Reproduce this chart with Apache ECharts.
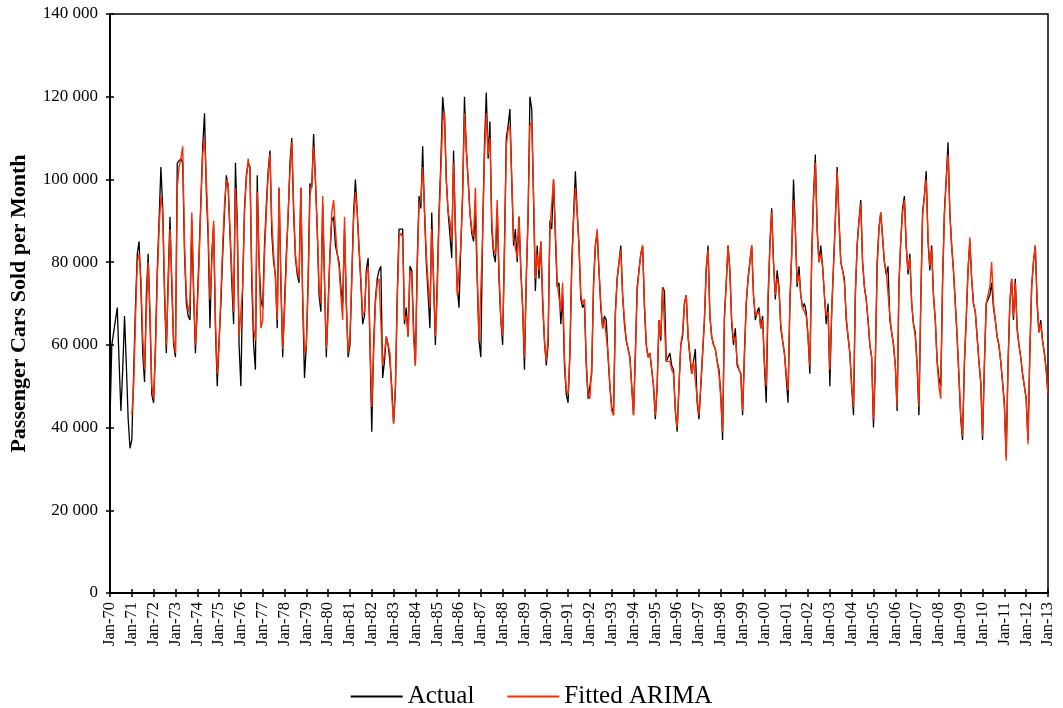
<!DOCTYPE html>
<html>
<head>
<meta charset="utf-8">
<title>Passenger Cars Sold per Month</title>
<script src="https://cdn.jsdelivr.net/npm/echarts/dist/echarts.min.js"></script>
<style>
  html, body { margin: 0; padding: 0; background: #fff; }
  #chart { width: 1063px; height: 708px; }
</style>
</head>
<body>
<div id="chart"></div>
<script>
// cars sold per month, in thousands, Jan-70 .. Jan-13 (one line per year)
const actual70s = [
  42, 60, 63, 66, 69, 56, 44, 54, 67, 55, 42, 35,
  37, 53, 69, 82, 85, 74, 58, 51, 72, 82, 66, 48,
  46, 60, 78, 90, 103, 93, 72, 58, 76, 91, 74, 60,
  57, 104, 104, 105, 104, 82, 70, 67, 66, 90, 72, 58,
  70, 82, 95, 108, 116, 97, 86, 64, 82, 89, 64, 50,
  61, 70, 82, 92, 101, 98, 87, 75, 65, 104, 90, 60,
  50, 75, 93, 101, 104, 103, 75, 60, 54, 101, 80, 71,
  69, 84, 94, 102, 107, 87, 80, 77, 64, 98, 75, 57,
  70, 82, 91, 104, 110, 92, 81, 77, 75, 98, 70, 52,
  60, 76, 99, 98, 111, 100, 88, 72, 68, 94, 75, 57
]
const actual80s = [
  70, 82, 90, 91, 84, 82, 80, 74, 70, 88, 70, 57,
  60, 76, 92, 100, 92, 83, 75, 65, 67, 78, 81, 60,
  39, 60, 71, 76, 78, 79, 52, 56, 62, 60, 56, 50,
  41, 49, 72, 88, 88, 88, 65, 69, 62, 79, 78, 64,
  55, 80, 96, 93, 108, 92, 80, 72, 64, 92, 75, 60,
  75, 92, 104, 120, 115, 100, 92, 92, 81, 107, 88, 74,
  69, 84, 97, 120, 107, 100, 92, 87, 85, 92, 76, 61,
  57, 88, 108, 121, 105, 114, 88, 82, 80, 93, 76, 66,
  60, 84, 110, 113, 117, 100, 84, 88, 80, 91, 78, 69,
  54, 76, 91, 120, 117, 95, 73, 84, 76, 85, 70, 61
]
const actual90s = [
  55, 60, 90, 88, 100, 86, 74, 75, 65, 72, 55, 48,
  46, 58, 80, 91, 102, 92, 84, 71, 69, 70, 55, 47,
  47, 53, 75, 84, 87, 78, 69, 64, 67, 66, 57, 50,
  45, 43, 68, 76, 80, 84, 72, 65, 61, 59, 57, 50,
  43, 58, 74, 78, 82, 84, 69, 60, 57, 58, 54, 50,
  42, 50, 66, 61, 74, 73, 56, 57, 58, 55, 54, 44,
  39, 50, 60, 62, 70, 72, 62, 57, 53, 56, 59, 46,
  42, 50, 58, 66, 78, 84, 67, 62, 60, 59, 56, 54,
  48, 37, 67, 75, 84, 78, 65, 60, 64, 55, 54, 53,
  43, 58, 70, 76, 80, 84, 72, 66, 68, 69, 64, 67
]
const actual00s = [
  55, 46, 70, 84, 93, 80, 71, 78, 74, 64, 61, 58,
  52, 46, 70, 82, 100, 88, 74, 79, 72, 69, 70, 68,
  62, 53, 82, 96, 106, 88, 80, 84, 79, 72, 65, 70,
  50, 68, 79, 90, 103, 91, 80, 78, 76, 66, 62, 58,
  50, 43, 72, 84, 90, 95, 80, 74, 71, 66, 60, 57,
  40, 55, 80, 88, 92, 86, 80, 77, 79, 66, 63, 60,
  55, 44, 75, 85, 93, 96, 84, 77, 82, 70, 65, 63,
  55, 43, 70, 92, 96, 102, 85, 78, 84, 72, 66, 56,
  52, 50, 75, 92, 100, 109, 92, 84, 78, 70, 62, 52,
  42, 37, 55, 66, 78, 85, 76, 70, 68, 62, 56, 51
]
const actual10s = [
  37, 55, 70, 71, 72, 75, 69, 66, 62, 60, 56, 51,
  46, 33, 55, 70, 76, 66, 76, 64, 60, 57, 53, 50,
  47, 37, 58, 74, 80, 84, 70, 63, 66, 61, 58, 54,
  48
]

// fitted ARIMA, first year has no fit
const fitted70s = [
  null, null, null, null, null, null, null, null, null, null, null, null,
  43, 50, 66, 80, 82, 76, 62, 54, 68, 80, 68, 50,
  47, 58, 76, 88, 96, 92, 74, 60, 74, 88, 76, 61,
  58, 98, 103, 105, 108, 84, 72, 68, 70, 92, 74, 60,
  68, 80, 94, 106, 110, 100, 88, 71, 80, 90, 66, 53,
  60, 72, 84, 94, 100, 99, 88, 78, 68, 98, 88, 62,
  62, 74, 92, 100, 105, 102, 78, 64, 61, 97, 80, 64,
  66, 82, 92, 101, 106, 90, 82, 76, 66, 98, 76, 59,
  68, 80, 92, 102, 109, 94, 82, 78, 76, 98, 72, 58,
  60, 74, 96, 99, 108, 100, 88, 74, 70, 96, 76, 59
]
const fitted80s = [
  68, 82, 92, 95, 88, 82, 79, 72, 66, 91, 70, 58,
  62, 76, 90, 97, 92, 84, 76, 67, 68, 77, 79, 62,
  45, 58, 70, 75, 76, 76, 55, 58, 62, 60, 58, 48,
  41, 50, 70, 86, 87, 86, 66, 67, 62, 78, 77, 62,
  55, 78, 94, 95, 103, 93, 82, 75, 69, 88, 76, 62,
  72, 90, 102, 114, 116, 100, 92, 90, 85, 104, 88, 72,
  72, 84, 96, 116, 108, 100, 92, 88, 86, 98, 78, 61,
  61, 86, 106, 116, 106, 110, 90, 83, 82, 95, 78, 66,
  62, 82, 108, 112, 113, 100, 86, 86, 81, 91, 78, 69,
  57, 76, 92, 113, 114, 96, 76, 82, 78, 85, 72, 61
]
const fitted90s = [
  56, 62, 88, 88, 100, 88, 75, 75, 68, 75, 57, 49,
  48, 58, 78, 90, 98, 92, 84, 72, 70, 71, 56, 48,
  47, 55, 74, 84, 88, 78, 70, 64, 66, 66, 58, 50,
  44, 43, 67, 76, 80, 83, 72, 66, 61, 59, 57, 50,
  43, 57, 73, 78, 82, 84, 70, 60, 57, 58, 54, 50,
  43, 50, 66, 62, 74, 74, 56, 56, 56, 54, 53, 44,
  40, 50, 60, 63, 70, 72, 62, 58, 53, 56, 56, 47,
  43, 50, 58, 66, 79, 83, 67, 62, 60, 59, 56, 53,
  47, 39, 66, 75, 84, 78, 66, 61, 62, 56, 54, 53,
  44, 57, 70, 76, 80, 84, 72, 67, 67, 68, 64, 66
]
const fitted00s = [
  56, 50, 72, 84, 92, 80, 72, 76, 74, 65, 61, 58,
  53, 49, 70, 82, 95, 88, 75, 77, 72, 69, 69, 67,
  62, 55, 80, 95, 104, 88, 80, 82, 79, 72, 67, 68,
  54, 68, 79, 90, 102, 90, 80, 78, 75, 67, 62, 58,
  50, 45, 72, 84, 90, 94, 80, 74, 71, 66, 60, 57,
  42, 56, 78, 88, 92, 86, 80, 78, 78, 67, 63, 60,
  55, 45, 74, 85, 92, 95, 84, 78, 81, 70, 65, 62,
  55, 45, 70, 91, 96, 100, 86, 79, 83, 72, 66, 56,
  50, 47, 75, 91, 100, 106, 92, 84, 78, 70, 62, 53,
  43, 38, 56, 66, 78, 86, 76, 70, 68, 62, 56, 51
]
const fitted10s = [
  38, 55, 70, 72, 74, 80, 70, 66, 62, 60, 56, 51,
  45, 32, 55, 70, 76, 67, 75, 64, 60, 57, 53, 50,
  47, 36, 58, 74, 80, 84, 71, 63, 65, 61, 58, 54,
  48
]

const monthNames = ['Jan', 'Feb', 'Mar', 'Apr', 'May', 'Jun', 'Jul', 'Aug', 'Sep', 'Oct', 'Nov', 'Dec']
const firstYear = 1970
const yTicks = [0, 20, 40, 60, 80, 100, 120, 140]

const actual = [].concat(actual70s, actual80s, actual90s, actual00s, actual10s)
const fitted = [].concat(fitted70s, fitted80s, fitted90s, fitted00s, fitted10s)

// category labels like "Jan-70"
const months = actual.map((v, i) => {
  const yy = (firstYear + Math.floor(i / 12)) % 100
  return monthNames[i % 12] + '-' + String(yy).padStart(2, '0')
})

const serif = 'Liberation Serif'
const black = '#000'
const red = '#FF2A00'

const chart = echarts.init(document.getElementById('chart'))
chart.setOption({
  backgroundColor: '#fff',
  animation: false,
  textStyle: { fontFamily: serif, color: black },
  grid: {
    left: 110,
    right: 15,
    top: 14,
    bottom: 115,
    show: true,
    borderColor: black,
    borderWidth: 1.5
  },
  legend: {
    data: ['Actual', 'Fitted ARIMA'],
    left: 'center',
    top: 679,
    icon: 'rect',
    itemWidth: 52,
    itemHeight: 2,
    itemGap: 33,
    textStyle: { fontFamily: serif, fontSize: 25, color: black }
  },
  xAxis: [{
    type: 'category',
    data: months,
    boundaryGap: false,
    axisLine: { lineStyle: { color: black, width: 2 } },
    axisTick: { interval: 11, length: 4, lineStyle: { color: black, width: 1.5 } },
    axisLabel: {
      interval: 11,
      rotate: 90,
      margin: 9,
      fontSize: 16.5,
      color: black,
      fontFamily: serif
    },
    splitLine: { show: false }
  }, {
    // second axis only to get ticks crossing the axis line
    type: 'category',
    data: months,
    boundaryGap: false,
    position: 'bottom',
    axisLine: { show: false },
    axisTick: { inside: true, interval: 11, length: 4, lineStyle: { color: black, width: 1.5 } },
    axisLabel: { show: false },
    splitLine: { show: false }
  }],
  yAxis: [{
    type: 'value',
    min: yTicks[0],
    max: yTicks[yTicks.length - 1],
    interval: 20,
    name: 'Passenger Cars Sold per Month',
    nameLocation: 'middle',
    nameGap: 80,
    nameTextStyle: { fontFamily: serif, fontSize: 22, fontWeight: 'bold', color: black },
    axisLine: { show: true, lineStyle: { color: black, width: 2 } },
    axisTick: { show: true, length: 4, lineStyle: { color: black, width: 1.5 } },
    axisLabel: {
      margin: 12,
      fontSize: 17,
      color: black,
      fontFamily: serif,
      formatter: v => (v === 0 ? '0' : v + ' 000')
    },
    splitLine: { show: false }
  }, {
    type: 'value',
    position: 'left',
    min: yTicks[0],
    max: yTicks[yTicks.length - 1],
    interval: 20,
    axisLine: { show: false },
    axisTick: { show: true, inside: true, length: 4, lineStyle: { color: black, width: 1.5 } },
    axisLabel: { show: false },
    splitLine: { show: false }
  }],
  series: [{
    name: 'Actual',
    type: 'line',
    data: actual,
    symbol: 'none',
    lineStyle: { color: black, width: 1.3 },
    itemStyle: { color: black }
  }, {
    name: 'Fitted ARIMA',
    type: 'line',
    data: fitted,
    symbol: 'none',
    lineStyle: { color: red, width: 1.4 },
    itemStyle: { color: red }
  }]
})
</script>
</body>
</html>
